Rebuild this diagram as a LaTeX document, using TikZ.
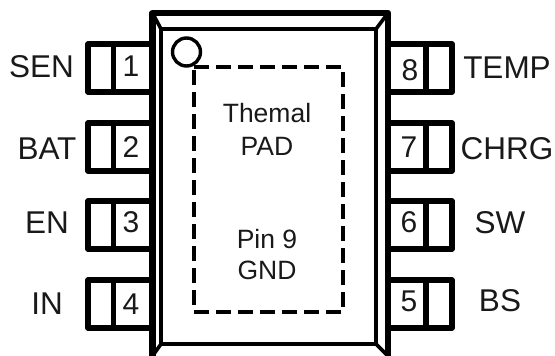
\documentclass[tikz,border=0pt]{standalone}
\usepackage{fontspec}
\setmainfont{Liberation Sans}
\tikzset{
  pinbox/.style={line width=5.5pt,line join=round,line cap=round},
  body/.style={line width=6.5pt,line join=round},
  innerbody/.style={line width=3.6pt,line join=miter},
  padline/.style={line width=3.2pt,dash pattern=on 15pt off 7pt},
  lab/.style={font=\fontsize{31.5}{31.5}\selectfont,anchor=base,inner sep=0pt,text=black!90},
  num/.style={font=\fontsize{30}{30}\selectfont,anchor=base,inner sep=0pt,text=black!90},
  padtxt/.style={font=\fontsize{26.5}{26.5}\selectfont,anchor=base,inner sep=0pt,text=black!90}
}
\begin{document}
\begin{tikzpicture}[x=1pt,y=-1pt]
\useasboundingbox (0,0) rectangle (555,356);
\begin{scope}
\clip (0,0) rectangle (555,356);
% pins
\foreach \t/\b in {44/92,123/171,201/249,280/328}{
  \draw[pinbox] (152,\t) -- (88,\t) -- (88,\b) -- (152,\b);
  \draw[pinbox] (113.5,\t) -- (113.5,\b);
  \draw[pinbox] (388,\t) -- (452,\t) -- (452,\b) -- (388,\b);
  \draw[pinbox] (426,\t) -- (426,\b);
}
% package
\draw[body] (152.5,362) -- (152.5,13) -- (388,13) -- (388,362);
\draw[innerbody] (161,344) -- (161,29) -- (376,29) -- (376,344) -- cycle;
\draw[innerbody] (152.5,13) -- (161,29);
\draw[innerbody] (388,13) -- (376,29);
\draw[innerbody] (161,344) -- (152.5,356);
\draw[innerbody] (376,344) -- (388,356);
\end{scope}
% pad
\draw[padline] (194,67) -- (343,67) -- (343,312) -- (194,312) -- cycle;
\node[circle,draw,line width=3.4pt,minimum size=28pt,inner sep=0pt,fill=white] (dot) at (186.5,52) {};
% labels
\node[lab] (l1) at (41.5,77) {SEN};
\node[lab] (l2) at (47,159) {BAT};
\node[lab] (l3) at (47,233) {EN};
\node[lab] (l4) at (47,314.5) {IN};
\node[lab] (l8) at (507,78) {TEMP};
\node[lab] (l7) at (507,159) {CHRG};
\node[lab] (l6) at (500,233) {SW};
\node[lab] (l5) at (500,311) {BS};
\node[num] (n1) at (131,76) {1};
\node[num] (n2) at (131,157) {2};
\node[num] (n3) at (131,232) {3};
\node[num] (n4) at (131,314) {4};
\node[num] (n8) at (410,80) {8};
\node[num] (n7) at (409,157) {7};
\node[num] (n6) at (409,232) {6};
\node[num] (n5) at (409,311) {5};
\node[padtxt] (t1) at (267,122) {Themal};
\node[padtxt] (t2) at (267,155) {PAD};
\node[padtxt] (t3) at (267,248) {Pin 9};
\node[padtxt] (t4) at (267,279) {GND};
\end{tikzpicture}
\end{document}
